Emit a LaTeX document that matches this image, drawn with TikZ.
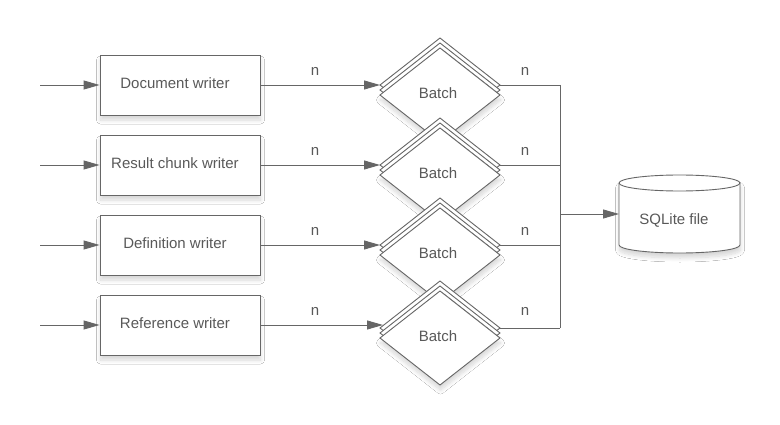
\documentclass[tikz,border=0pt]{standalone}
\usepackage{fontspec}
\setmainfont{Liberation Sans}
\usetikzlibrary{shapes.geometric,arrows.meta,shadows.blur,calc}
\definecolor{ln}{HTML}{666666}
\definecolor{tx}{HTML}{595959}
\begin{document}
\begin{tikzpicture}[x=1pt,y=-1pt,
  font=\fontsize{15}{18}\selectfont, text=tx,
  line/.style={draw=ln, line width=0.9pt},
  arr/.style={line, -{Triangle[length=16pt,width=9pt]}},
  soft/.style={blur shadow={shadow xshift=0.5pt,shadow yshift=-5pt,shadow blur radius=4pt,shadow blur steps=10,shadow opacity=16}},
  writer/.style={line, fill=white, rectangle, minimum width=160pt, minimum height=60pt, inner sep=0pt, soft},
  batch/.style={line, fill=white, diamond, aspect=1.2766, minimum width=120pt, minimum height=94pt, inner sep=0pt, outer sep=0pt},
]
\fill[white] (0,0) rectangle (780,425);
\useasboundingbox (0,0) rectangle (780,425);
\coordinate (junc) at (560,214);
\node[minimum width=121pt, minimum height=78pt, inner sep=0pt, outer sep=0pt] (db) at (679.5,214) {};
\foreach \i/\wy/\by/\dx/\t in {1/85/85/0/Document writer, 2/165/165/0/Result chunk writer, 3/245/245/0/Definition writer, 4/325/328/3/Reference writer}{
  \coordinate (in\i) at (40,\wy);
  \node[writer, label={[text=tx,xshift=-5pt,yshift=2pt]center:\t}] (w\i) at (180,\wy) {};
  \node[batch] (bc\i) at (440,\by) {};
  \node[batch] (bb\i) at (440,\by+5) {};
  \node[batch, soft] (b\i) at (440,\by+10) {};
  \node (bt\i) at (438,\by+8) {Batch};
  \draw[arr] (in\i) -- (w\i.west);
  \draw[arr] (w\i.east) -- ($(w\i.east -| bc\i.west)+(\dx,0)$);
  \draw[line] (bc\i.east) -- (bc\i.east -| junc);
  \node (nl\i) at (315,\wy-14) {n};
  \node (nr\i) at (525,\wy-14) {n};
}
\draw[line] (bc1.east -| junc) -- (bc4.east -| junc);
\draw[line, fill=white, soft] (619,183) -- (619,245)
  arc[start angle=180,end angle=360,x radius=60.5pt,y radius=8pt] -- (740,183)
  arc[start angle=0,end angle=180,x radius=60.5pt,y radius=8pt] -- cycle;
\draw[line] (619,183) arc[start angle=180,end angle=360,x radius=60.5pt,y radius=8pt];
\draw[arr] (junc) -- (junc -| db.west);
\node (dbtext) at (674,220) {SQLite file};
\end{tikzpicture}
\end{document}
